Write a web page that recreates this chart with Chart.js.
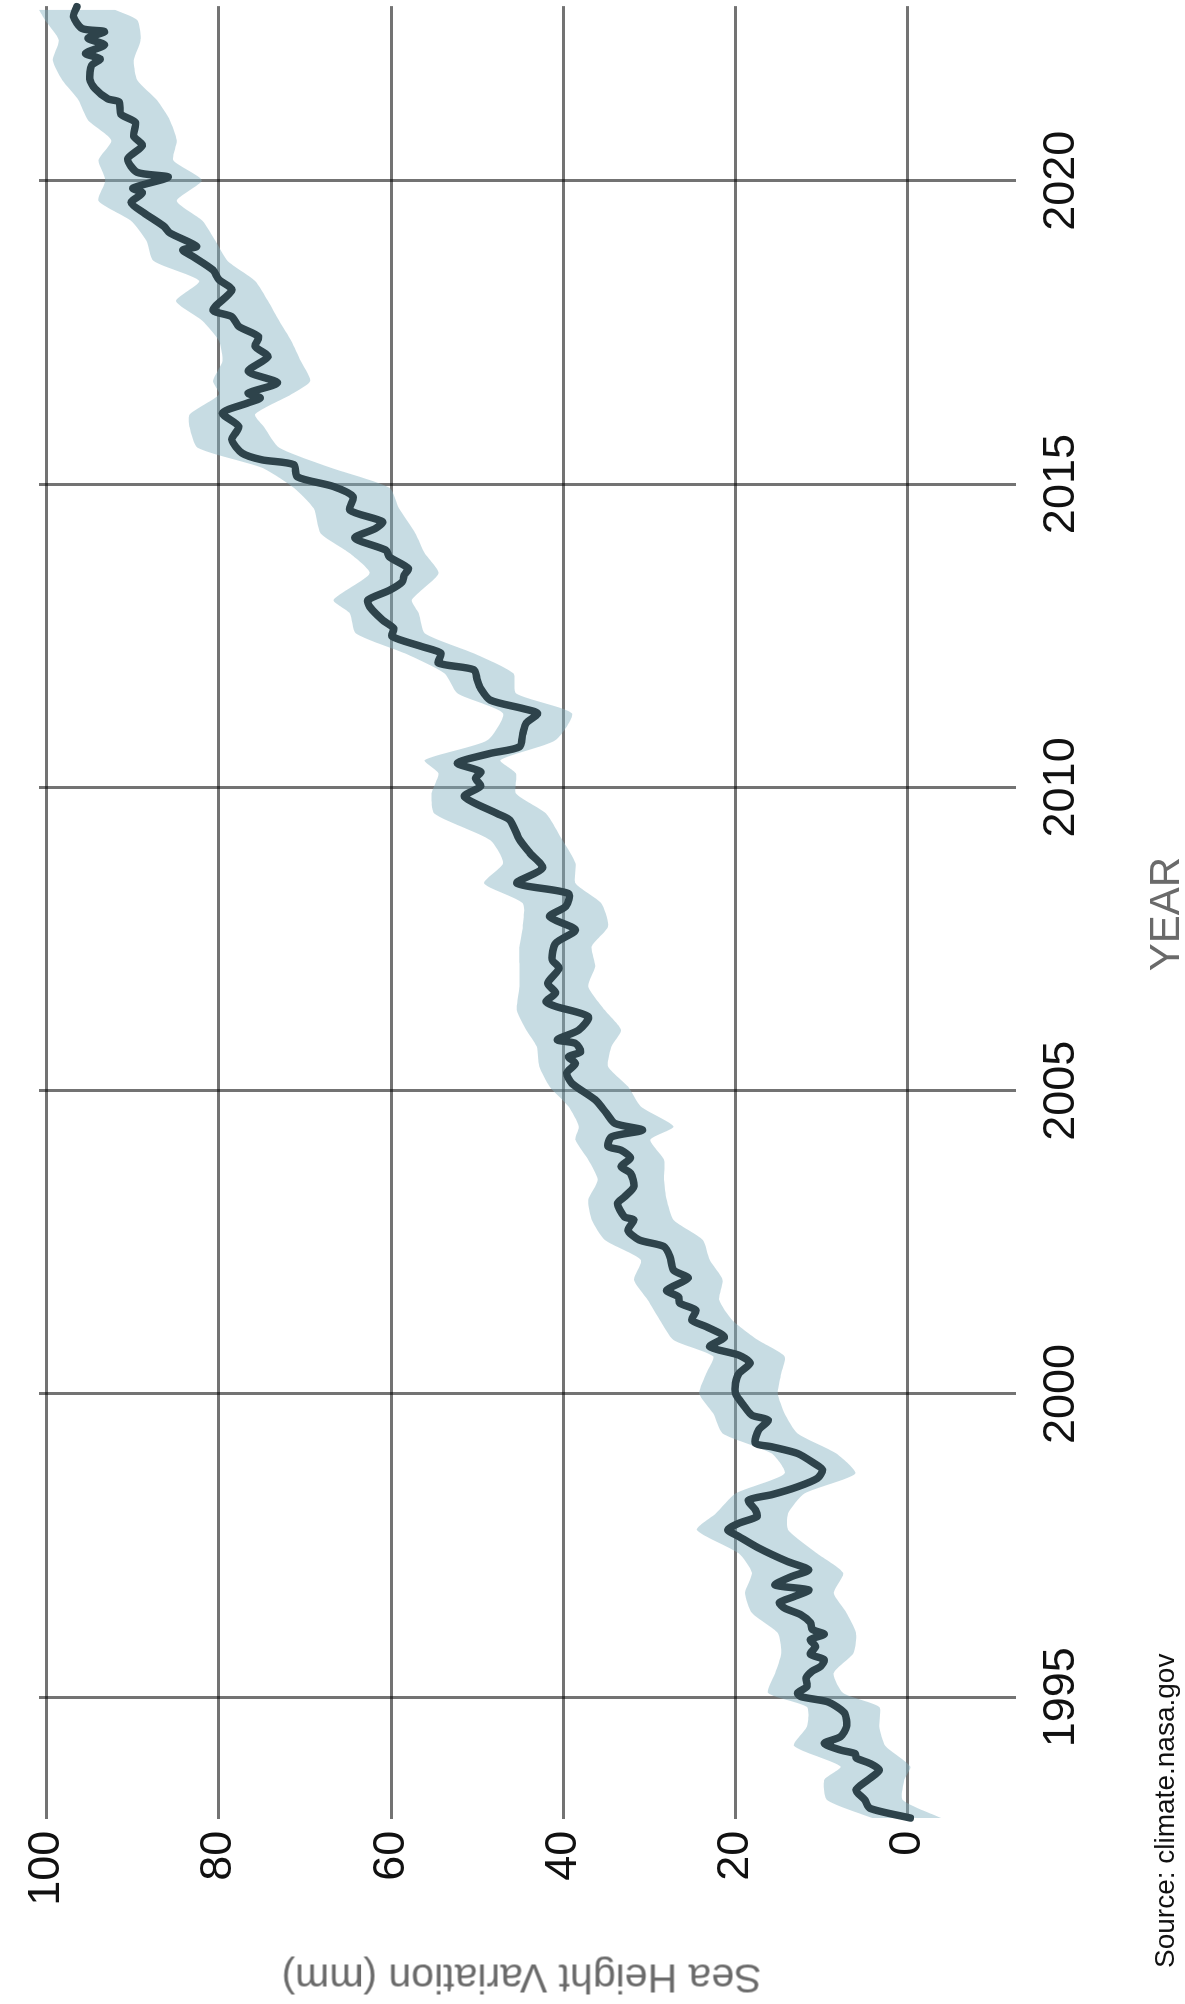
<!DOCTYPE html>
<html>
<head>
<meta charset="utf-8">
<title>Sea Height Variation</title>
<script src="https://cdn.jsdelivr.net/npm/chart.js@4.4.1/dist/chart.umd.min.js"></script>
<style>
  html, body { margin: 0; padding: 0; background: #fff; overflow: hidden; }
  body { width: 1185px; height: 2004px; position: relative; }
  /* the whole chart is laid out landscape, then turned a quarter to the left */
  #turn {
    position: absolute; left: 0; top: 0;
    width: 2004px; height: 1185px;
    transform-origin: 0 0;
    transform: translate(0, 2004px) rotate(-90deg);
  }
  #seaChart { position: absolute; left: 0; top: 0; }
  .txt {
    position: absolute;
    font-family: "Liberation Sans", Arial, Helvetica, sans-serif;
    line-height: 1;
    white-space: nowrap;
  }
  #yTitle {
    left: -324.5px; top: 500.5px; width: 700px;
    text-align: center; font-size: 41px; color: #6a6a6a;
    transform: rotate(-90deg);
  }
  #xTitle {
    left: 890px; top: 1144px; width: 400px;
    text-align: center; font-size: 42px; color: #6a6a6a;
  }
  #source {
    left: 36px; top: 1151px; font-size: 28px; color: #111;
  }
</style>
</head>
<body>
<div id="turn">
  <canvas id="seaChart" width="2004" height="1185"></canvas>
  <div class="txt" id="yTitle">Sea Height Variation (mm)</div>
  <div class="txt" id="xTitle">YEAR</div>
  <div class="txt" id="source">Source: climate.nasa.gov</div>
</div>

<script>
// satellite sea level, smoothed line (mm)
const lineYears = [
  1993.01, 1993.17, 1993.31, 1993.47, 1993.64, 1993.80, 1993.91, 1994.00, 1994.07, 1994.13,
  1994.24, 1994.35, 1994.52, 1994.73, 1994.84, 1994.93, 1995.01, 1995.07, 1995.18, 1995.32,
  1995.43, 1995.51, 1995.62, 1995.71, 1995.84, 1995.95, 1996.04, 1996.12, 1996.23, 1996.36,
  1996.47, 1996.56, 1996.66, 1996.77, 1996.85, 1996.99, 1997.10, 1997.24, 1997.46, 1997.65,
  1997.76, 1997.87, 1997.98, 1998.09, 1998.25, 1998.34, 1998.47, 1998.61, 1998.75, 1998.86,
  1999.02, 1999.13, 1999.19, 1999.41, 1999.57, 1999.65, 1999.82, 2000.01, 2000.18, 2000.34,
  2000.51, 2000.64, 2000.78, 2000.94, 2001.11, 2001.22, 2001.38, 2001.50, 2001.60, 2001.71,
  2001.91, 2002.04, 2002.26, 2002.43, 2002.54, 2002.70, 2002.87, 2002.92, 2003.14, 2003.25,
  2003.42, 2003.64, 2003.75, 2003.89, 2004.02, 2004.08, 2004.24, 2004.35, 2004.46, 2004.63,
  2004.85, 2005.12, 2005.29, 2005.45, 2005.56, 2005.64, 2005.78, 2005.84, 2006.00, 2006.22,
  2006.39, 2006.47, 2006.61, 2006.77, 2007.02, 2007.16, 2007.43, 2007.65, 2007.87, 2008.04,
  2008.25, 2008.42, 2008.67, 2008.92, 2009.14, 2009.46, 2009.57, 2009.85, 2010.02, 2010.15,
  2010.26, 2010.40, 2010.56, 2010.67, 2010.89, 2011.06, 2011.22, 2011.30, 2011.44, 2011.63,
  2011.77, 2011.94, 2012.05, 2012.21, 2012.32, 2012.49, 2012.62, 2012.76, 2012.98, 2013.09,
  2013.25, 2013.39, 2013.50, 2013.61, 2013.80, 2013.91, 2014.11, 2014.27, 2014.38, 2014.57,
  2014.79, 2014.96, 2015.12, 2015.32, 2015.40, 2015.51, 2015.73, 2015.95, 2016.17, 2016.34,
  2016.42, 2016.50, 2016.67, 2016.86, 2017.10, 2017.27, 2017.43, 2017.60, 2017.76, 2017.87,
  2018.20, 2018.37, 2018.53, 2018.75, 2018.86, 2018.92, 2019.14, 2019.25, 2019.47, 2019.64,
  2019.80, 2019.88, 2020.06, 2020.14, 2020.36, 2020.58, 2020.74, 2020.96, 2021.10, 2021.30,
  2021.35, 2021.52, 2021.68, 2021.90, 2022.01, 2022.10, 2022.24, 2022.35, 2022.46, 2022.51,
  2022.71, 2022.87
];
const seaLevel = [
  -0.3, 4.4, 5.0, 6.0, 4.6, 3.3, 4.4, 6.0, 6.1, 7.8,
  9.7, 7.8, 7.1, 7.3, 8.2, 9.4, 12.4, 12.8, 11.7, 11.8,
  11.1, 10.1, 9.7, 11.3, 10.7, 11.3, 9.7, 11.1, 11.3, 12.4,
  14.3, 14.9, 13.2, 11.5, 15.4, 13.5, 11.5, 14.0, 17.3, 19.6,
  20.9, 19.6, 17.5, 17.7, 18.5, 15.8, 12.8, 10.5, 9.9, 10.9,
  12.8, 15.8, 17.7, 17.3, 16.2, 18.1, 19.1, 20.0, 20.0, 19.6,
  18.3, 19.6, 23.0, 21.3, 23.4, 25.1, 24.6, 26.5, 26.6, 28.0,
  25.5, 27.2, 27.6, 28.3, 31.2, 32.5, 31.8, 32.9, 33.7, 32.9,
  31.8, 32.2, 33.3, 32.2, 33.3, 34.8, 34.4, 30.8, 34.0, 35.0,
  36.3, 39.0, 39.6, 38.6, 39.4, 38.0, 38.6, 40.7, 38.2, 37.1,
  40.9, 42.0, 40.9, 41.8, 40.5, 41.3, 40.9, 38.6, 41.6, 39.7,
  39.4, 45.4, 42.4, 43.9, 45.1, 46.2, 47.7, 51.5, 49.6, 50.2,
  49.6, 52.3, 48.5, 45.1, 44.7, 44.3, 43.0, 44.7, 48.5, 49.6,
  50.0, 50.4, 54.5, 54.2, 56.4, 59.9, 59.7, 61.0, 62.5, 62.7,
  60.2, 58.7, 58.5, 58.0, 60.2, 60.6, 64.2, 61.8, 61.0, 64.8,
  64.4, 66.7, 70.9, 71.3, 75.0, 77.3, 78.5, 77.7, 79.6, 76.6,
  75.2, 76.6, 73.2, 76.6, 74.3, 75.8, 75.4, 77.7, 78.5, 80.7,
  78.5, 80.0, 80.7, 83.0, 84.2, 82.6, 85.7, 86.4, 88.7, 90.2,
  88.9, 90.0, 85.9, 89.5, 90.6, 88.9, 89.9, 89.7, 91.4, 91.6,
  92.9, 94.4, 95.0, 94.8, 93.8, 95.5, 93.3, 95.2, 93.3, 95.9,
  96.9, 96.5
];

// shaded band round the line (mm)
const bandYears = [
  1993.01, 1993.31, 1993.64, 1993.86, 1994.20, 1994.52, 1994.84, 1995.07, 1995.40, 1995.73,
  1996.06, 1996.39, 1996.72, 1997.05, 1997.37, 1997.76, 1998.03, 1998.36, 1998.69, 1999.02,
  1999.35, 1999.68, 2000.01, 2000.34, 2000.62, 2000.89, 2001.22, 2001.55, 2001.88, 2002.21,
  2002.54, 2002.87, 2003.20, 2003.53, 2003.86, 2004.19, 2004.41, 2004.74, 2005.07, 2005.40,
  2005.73, 2006.00, 2006.33, 2006.72, 2007.05, 2007.38, 2007.71, 2008.09, 2008.42, 2008.75,
  2009.13, 2009.57, 2009.90, 2010.23, 2010.45, 2010.78, 2011.22, 2011.55, 2011.88, 2012.21,
  2012.54, 2012.87, 2013.09, 2013.53, 2013.86, 2014.19, 2014.60, 2014.94, 2015.27, 2015.60,
  2015.93, 2016.15, 2016.48, 2016.70, 2017.03, 2017.36, 2017.69, 2018.02, 2018.35, 2018.68,
  2019.01, 2019.34, 2019.67, 2020.01, 2020.34, 2020.67, 2021.00, 2021.33, 2021.66, 2021.99,
  2022.32, 2022.65, 2022.82
];
const bandHigh = [
  4.1, 9.4, 9.7, 7.8, 13.2, 11.7, 11.7, 16.2, 15.4, 14.7,
  15.1, 18.1, 18.9, 18.1, 19.6, 24.5, 22.3, 20.0, 14.3, 15.8,
  21.5, 22.6, 24.2, 23.4, 22.6, 27.2, 28.8, 30.2, 31.8, 31.0,
  35.2, 36.7, 37.1, 36.0, 37.1, 38.6, 38.2, 39.4, 41.6, 42.8,
  43.1, 44.3, 45.4, 45.1, 45.1, 45.1, 44.7, 44.7, 49.2, 47.0,
  48.5, 55.0, 55.3, 54.5, 56.1, 48.8, 47.0, 52.3, 53.8, 58.4,
  64.1, 64.8, 66.7, 62.5, 64.8, 68.2, 69.0, 71.3, 75.0, 82.5,
  83.4, 83.4, 80.0, 80.7, 79.6, 80.0, 81.9, 85.0, 82.3, 87.6,
  88.4, 90.2, 94.0, 93.2, 94.0, 92.5, 95.2, 96.3, 98.2, 99.3,
  98.6, 100.2, 100.9
];
const bandLow = [
  -3.9, 0.6, 0.4, -0.3, 2.6, 3.3, 3.3, 7.5, 8.6, 6.3,
  6.0, 7.1, 8.6, 7.5, 10.5, 13.9, 13.9, 12.0, 6.1, 8.3,
  12.8, 14.3, 15.1, 14.7, 14.3, 17.4, 20.4, 21.9, 21.5, 23.0,
  23.8, 27.2, 28.0, 28.3, 28.3, 29.9, 27.2, 31.0, 32.5, 34.8,
  34.4, 33.3, 35.2, 37.1, 36.3, 36.7, 34.8, 35.6, 38.6, 38.6,
  40.1, 42.0, 45.5, 45.5, 47.3, 40.9, 39.0, 45.5, 45.8, 50.4,
  56.1, 56.8, 57.6, 54.5, 56.1, 57.2, 59.1, 60.2, 67.0, 73.0,
  74.7, 75.8, 71.6, 69.4, 70.5, 71.6, 73.0, 74.3, 75.8, 79.0,
  80.4, 81.9, 84.9, 82.0, 85.3, 84.9, 85.7, 87.2, 89.5, 89.9,
  89.1, 89.5, 92.1
];

const yearTicks = [1995, 2000, 2005, 2010, 2015, 2020];
const heightTicks = [0, 20, 40, 60, 80, 100];

const gridColor = 'rgba(0, 0, 0, 0.55)';
Chart.defaults.font.family = '"Liberation Sans", Arial, Helvetica, sans-serif';

function toPoints(xs, ys) {
  return xs.map((x, i) => ({ x: x, y: ys[i] }));
}

const ctx = document.getElementById('seaChart').getContext('2d');
new Chart(ctx, {
  type: 'line',
  data: {
    datasets: [
      {
        label: 'Sea level',
        data: toPoints(lineYears, seaLevel),
        borderColor: '#2e434b',
        borderWidth: 7.5,
        borderJoinStyle: 'round',
        borderCapStyle: 'round',
        pointRadius: 0,
        tension: 0.25,
        fill: false,
        clip: false
      },
      {
        label: 'upper',
        data: toPoints(bandYears, bandHigh),
        borderWidth: 0,
        pointRadius: 0,
        tension: 0.2,
        fill: false
      },
      {
        label: 'lower',
        data: toPoints(bandYears, bandLow),
        borderWidth: 0,
        pointRadius: 0,
        tension: 0.2,
        fill: '-1',
        backgroundColor: 'rgba(130, 178, 192, 0.45)'
      }
    ]
  },
  options: {
    responsive: false,
    devicePixelRatio: 1,
    animation: false,
    events: [],
    layout: { padding: { top: 19.7, right: 6.1, bottom: 0, left: 0 } },
    plugins: {
      legend: { display: false },
      tooltip: { enabled: false }
    },
    scales: {
      x: {
        type: 'linear',
        min: 1993,
        max: 2022.88,
        afterBuildTicks: (scale) => { scale.ticks = yearTicks.map(v => ({ value: v })); },
        afterFit: (scale) => { scale.height = 168.8; },
        border: { display: false },
        grid: { color: gridColor, lineWidth: 3, drawTicks: false },
        ticks: {
          autoSkip: false,
          maxRotation: 0,
          padding: 18,
          color: '#111',
          font: { size: 45 },
          callback: (v) => String(v)
        }
      },
      y: {
        type: 'linear',
        min: -12.6,
        max: 100.9,
        afterBuildTicks: (scale) => { scale.ticks = heightTicks.map(v => ({ value: v })); },
        afterFit: (scale) => { scale.width = 185.4; },
        border: { display: false },
        grid: { color: gridColor, lineWidth: 3, drawTicks: false },
        ticks: {
          padding: 12,
          color: '#111',
          font: { size: 45 },
          callback: (v) => String(v)
        }
      }
    }
  }
});
</script>
</body>
</html>
